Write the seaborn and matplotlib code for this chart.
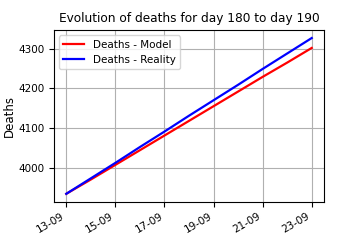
import pandas as pd
from matplotlib import pyplot as plt
import matplotlib.dates as mdates
from matplotlib.ticker import MultipleLocator
import seaborn as sns

# Valeurs (13-09 au 23-09)
dates = pd.date_range('2020-09-13', '2020-09-23', freq='D')
deaths_model = [3934, 3970, 4007, 4044, 4081, 4118, 4155, 4192, 4229, 4265, 4302]
deaths_reality = [3934, 3973, 4012, 4052, 4091, 4131, 4170, 4209, 4249, 4288, 4327]

df = pd.DataFrame({'Date': dates, 'Model': deaths_model, 'Reality': deaths_reality})

plt.rcParams['font.family'] = ['DejaVu Sans']
fig, ax = plt.subplots(figsize=(3.6, 2.52), dpi=100)
sns.lineplot(x='Date', y='Model', data=df, color='red', lw=1.6, label='Deaths - Model', ax=ax)
sns.lineplot(x='Date', y='Reality', data=df, color='blue', lw=1.6, label='Deaths - Reality', ax=ax)

ax.set_title('Evolution of deaths for day 180 to day 190', fontsize=8.7)
ax.set_ylabel('Deaths', fontsize=8.5)
ax.set_xlabel('')
ax.xaxis.set_major_locator(mdates.DayLocator(interval=2))
ax.xaxis.set_major_formatter(mdates.DateFormatter('%d-%m'))
ax.yaxis.set_major_locator(MultipleLocator(100))
ax.tick_params(labelsize=7.5)
ax.grid(True, color='#b0b0b0', lw=0.8)
ax.legend(loc='upper left', fontsize=7.5)
fig.autofmt_xdate()
plt.subplots_adjust(left=0.15, right=0.9, top=0.88, bottom=0.2)
ax.yaxis.set_label_coords(-0.14, 0.5)
plt.savefig('out.png', dpi=100)
